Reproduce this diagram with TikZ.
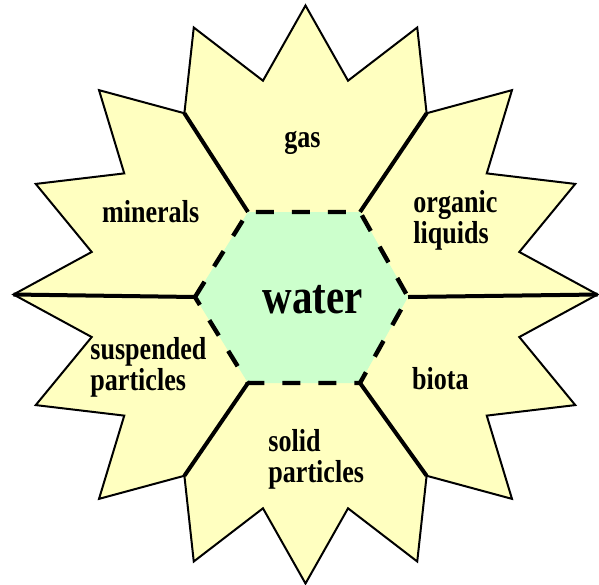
\documentclass[tikz,border=0pt]{standalone}
\usepackage{fontspec}
\setmainfont{Liberation Serif}
\newfontfamily\tallserif[FakeStretch=0.82]{Liberation Serif}
\usetikzlibrary{calc}
\definecolor{starfill}{RGB}{255,255,192}
\definecolor{hexfill}{RGB}{204,255,204}

\begin{document}
\begin{tikzpicture}[x=0.5pt, y=-0.5pt,
  every node/.style={font=\tallserif\bfseries\fontsize{15.9}{15.5}\selectfont, inner sep=0pt},
  s/.style={draw, line width=1pt, fill=starfill, line join=miter},
  r/.style={line width=2pt},
  h/.style={draw, line width=2.2pt, dash pattern=on 9pt off 9pt, fill=hexfill},
  l/.style={align=left, anchor=base west}]
  \useasboundingbox (0,0) rectangle (599,584);
  % sixteen-point star round the whole thing
  \begin{scope}[shift={(305.5,294.5)}]
    \draw[s] (0:292 and 289) \foreach \k in {1,...,16} {-- ({22.5*\k-11.25}:218) -- ({22.5*\k}:292 and 289)} -- cycle;
    \coordinate (sE) at (0:292 and 289);
    \coordinate (sW) at (180:292 and 289);
    \coordinate (sNE) at (-56.25:218);
    \coordinate (sNW) at (-123.75:218);
    \coordinate (sSE) at (56.25:218);
    \coordinate (sSW) at (123.75:218);
  \end{scope}
  % corners of the water hexagon
  \coordinate (hW) at (195,297);
  \coordinate (hNW) at (248,212);
  \coordinate (hNE) at (360,212);
  \coordinate (hE) at (408,297);
  \coordinate (hSE) at (360,383);
  \coordinate (hSW) at (248,383);
  \draw[r] (hW) -- (sW);   \draw[r] (hE) -- (sE);
  \draw[r] (hNW) -- (sNW); \draw[r] (hNE) -- (sNE);
  \draw[r] (hSW) -- (sSW); \draw[r] (hSE) -- (sSE);
  \draw[h] (hW) -- (hNW) -- (hNE) -- (hE) -- (hSE) -- (hSW) -- cycle;
  % labels (base of a two-line node is its last line)
  \node[anchor=base, font=\tallserif\bfseries\fontsize{25}{24}\selectfont] (water) at (312.5,313) {water};
  \node[l] (gas) at (284,147) {gas};
  \node[l] (minerals) at (101.7,222) {minerals};
  \node[l] (organic) at (413,243) {organic\\liquids};
  \node[l] (suspended) at (90,390) {suspended\\particles};
  \node[l] (biota) at (411.7,389) {biota};
  \node[l] (solid) at (268,482) {solid\\particles};
\end{tikzpicture}
\end{document}
